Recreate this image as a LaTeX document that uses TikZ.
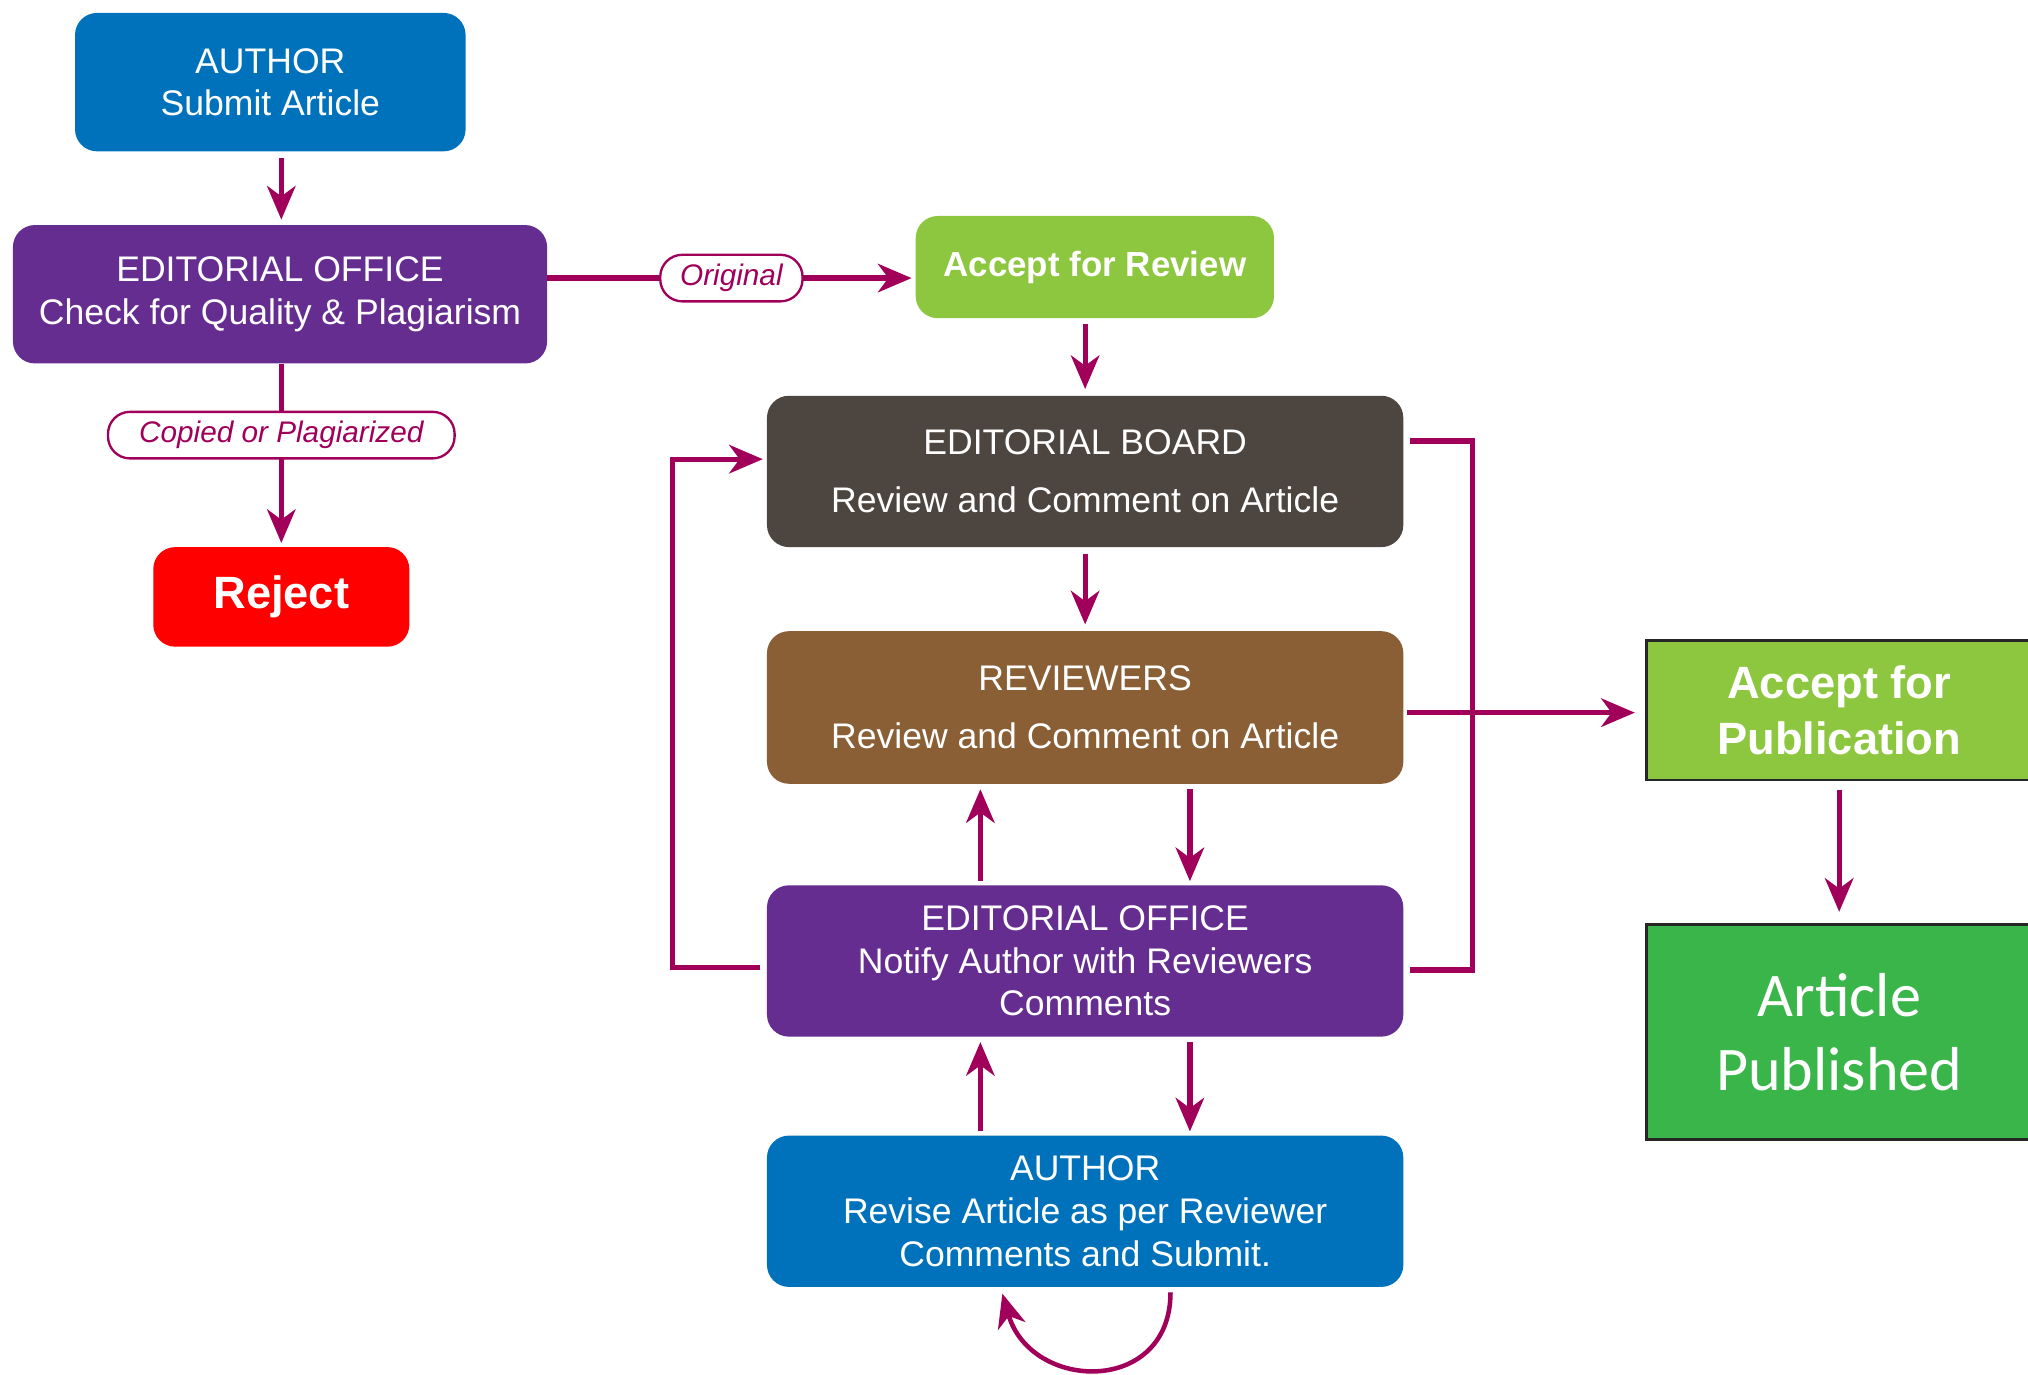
\documentclass[tikz,border=0pt]{standalone}
\usepackage{fontspec}
\setmainfont{Liberation Sans}
\newfontfamily\pubfont{Carlito}
\usetikzlibrary{arrows.meta,calc}

\definecolor{authblue}{HTML}{0072BC}
\definecolor{officepurple}{HTML}{662D91}
\definecolor{lightgreen}{HTML}{8DC63F}
\definecolor{boardgrey}{HTML}{4D4540}
\definecolor{reviewbrown}{HTML}{8A5F35}
\definecolor{rejectred}{HTML}{FE0000}
\definecolor{pubgreen}{HTML}{3AB54A}
\definecolor{linkc}{HTML}{A0005A}

\begin{document}
\begin{tikzpicture}[x=1pt,y=-1pt,
  box/.style={rectangle, rounded corners=17pt, text=white, align=center,
    inner sep=0pt, font=\fontsize{27.5}{33}\selectfont},
  widebox/.style={box, minimum width=492pt, minimum height=117pt},
  pubbox/.style={rectangle, draw=black!85, line width=2pt, text=white,
    align=center, inner sep=0pt, minimum width=298pt},
  conn/.style={draw=linkc, line width=4pt},
  arr/.style={conn, -{Stealth[length=26pt,width=22pt,inset=8pt]}},
  tag/.style={draw=linkc, line width=1.8pt, fill=white, rounded corners=17pt,
    text=linkc, inner sep=0pt, minimum height=36pt,
    font=\fontsize{23}{26}\selectfont\itshape},
]
\useasboundingbox (0,0) rectangle (1568,1063);

% boxes of the submission stage
\node[box, fill=authblue, minimum width=302pt, minimum height=107pt] (au1) at (209,63.5)
  {AUTHOR\\Submit Article};
\node[box, fill=officepurple, minimum width=413pt, minimum height=107pt] (eo1) at (216.5,227.5)
  {EDITORIAL OFFICE\\Check for Quality \& Plagiarism};
\node[box, fill=lightgreen, minimum width=277pt, minimum height=79pt,
  font=\bfseries\fontsize{27}{32}\selectfont] (afr) at (846.5,206.5) {Accept for Review};
\node[box, fill=rejectred, minimum width=198pt, minimum height=77pt,
  font=\bfseries\fontsize{35}{42}\selectfont] (rej) at (217.5,461.5) {Reject};

% review cycle
\node[widebox, fill=boardgrey] (eb) at (839,364.5)
  {EDITORIAL BOARD\\[12pt]Review and Comment on Article};
\node[widebox, fill=reviewbrown, minimum height=118pt] (rev) at (839,547)
  {REVIEWERS\\[12pt]Review and Comment on Article};
\node[widebox, fill=officepurple] (eo2) at (839,743)
  {EDITORIAL OFFICE\\Notify Author with Reviewers\\Comments};
\node[widebox, fill=authblue] (au2) at (839,936.5)
  {AUTHOR\\Revise Article as per Reviewer\\Comments and Submit.};

% publication
\node[pubbox, fill=lightgreen, minimum height=108pt,
  font=\bfseries\fontsize{35}{43}\selectfont] (apub) at (1422,549) {Accept for\\Publication};
\node[pubbox, fill=pubgreen, minimum height=166pt,
  font=\pubfont\fontsize{48}{57}\selectfont] (ap) at (1422,798) {Article\\Published};

% connectors
\draw[arr, shorten <=5pt, shorten >=4pt] (au1.south -| rej.north) -- (eo1.north -| rej.north);
\draw[arr, shorten >=3pt] ($(eo1.east)+(0,-12.5)$) -- node[tag, minimum width=110pt] (orig) {Original}
  ($(afr.west)+(0,8.5)$);
\draw[arr, shorten >=3pt] (eo1.south -| rej.north) -- node[tag, minimum width=268pt, pos=0.39] (copied) {Copied or Plagiarized}
  (rej.north);
\draw[arr, shorten <=4pt, shorten >=5pt] (eb.north |- afr.south) -- (eb.north);
\draw[arr, shorten <=5pt, shorten >=5pt] (eb.south) -- (rev.north);
\draw[arr, shorten <=3pt, shorten >=4pt] ($(eo2.north)+(-81,0)$) -- ($(rev.south)+(-81,0)$);
\draw[arr, shorten <=4pt, shorten >=3pt] ($(rev.south)+(81,0)$) -- ($(eo2.north)+(81,0)$);
\draw[arr, shorten <=3pt, shorten >=4pt] ($(au2.north)+(-81,0)$) -- ($(eo2.south)+(-81,0)$);
\draw[arr, shorten <=4pt, shorten >=3pt] ($(eo2.south)+(81,0)$) -- ($(au2.north)+(81,0)$);

% return path to the editorial board
\draw[arr, shorten >=3pt] ($(eo2.west)+(-5,5)$) -- ++(-68,0) |- ($(eb.west)+(0,-9.5)$);
% board and office joined on the right
\draw[conn] ($(eb.east)+(5,-23.5)$) -- ++(48,0) |- ($(eo2.east)+(5,7)$);
\draw[arr, shorten >=8pt] ($(rev.east)+(3,4)$) -- ($(apub.west)+(0,2)$);
\draw[arr, shorten <=7pt, shorten >=9pt] (apub.south) -- (ap.north);

% author revision loop
\draw[arr, line width=3.5pt] ($(au2.south)+(66,4)$) .. controls +(0,80) and +(22,76) ..
  ($(au2.south)+(-64,5)$);
\end{tikzpicture}
\end{document}
